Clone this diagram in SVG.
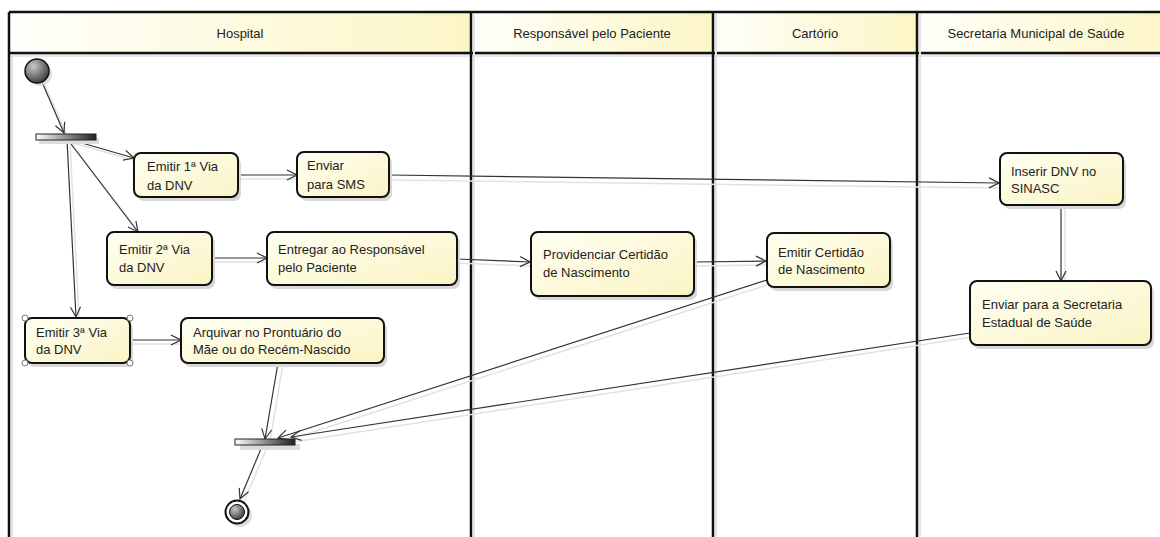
<svg xmlns="http://www.w3.org/2000/svg" width="1160" height="537" viewBox="0 0 1160 537">
<defs>
<linearGradient id="hdr" x1="0" y1="0" x2="1" y2="0">
<stop offset="0" stop-color="#fffffa"/>
<stop offset="1" stop-color="#fcf6c6"/>
</linearGradient>
<linearGradient id="act" x1="0" y1="0" x2="1" y2="1">
<stop offset="0" stop-color="#fffff2"/>
<stop offset="1" stop-color="#faf4c4"/>
</linearGradient>
<linearGradient id="bar" x1="0" y1="0" x2="1" y2="0">
<stop offset="0" stop-color="#ffffff"/>
<stop offset="1" stop-color="#202020"/>
</linearGradient>
<radialGradient id="ball" cx="0.35" cy="0.3" r="0.8">
<stop offset="0" stop-color="#c8c8c8"/>
<stop offset="1" stop-color="#303030"/>
</radialGradient>
<marker id="arr" markerWidth="12" markerHeight="12" refX="11" refY="6" orient="auto" markerUnits="userSpaceOnUse">
<path d="M1,1 L11,6 L1,11" fill="none" stroke="#333" stroke-width="1.2"/>
</marker>
</defs>
<style>
.div{stroke:#111;stroke-width:2.5}
.hdrt{font-family:"Liberation Sans",Arial,sans-serif;font-size:13px;fill:#222;text-anchor:middle}
.t{font-family:"Liberation Sans",Arial,sans-serif;font-size:13px;fill:#222}
.box{fill:url(#act);stroke:#111;stroke-width:2}
.sh{fill:#d8d8d8}
.c{stroke:#333;stroke-width:1.2;fill:none;marker-end:url(#arr)}
.g{stroke:#e2e2e2;stroke-width:1.5;fill:none}
.hd{fill:#fff;stroke:#777;stroke-width:1}
.hb{fill:url(#hdr)}
</style>
<rect width="1160" height="537" fill="#fff"/>
<g id="lanes">
<rect x="9" y="12" width="462" height="41" class="hb"/>
<rect x="471" y="12" width="242" height="41" class="hb"/>
<rect x="713" y="12" width="204" height="41" class="hb"/>
<rect x="917" y="12" width="250" height="41" class="hb"/>
<rect x="9" y="53" width="1160" height="4" fill="#e8e8e8"/>
<line x1="9" y1="12" x2="1165" y2="12" class="div"/>
<line x1="9" y1="53" x2="1165" y2="53" class="div" stroke-width="2"/>
<line x1="9" y1="12" x2="9" y2="537" class="div"/>
<line x1="471" y1="12" x2="471" y2="537" class="div"/>
<line x1="713" y1="12" x2="713" y2="537" class="div"/>
<line x1="917" y1="12" x2="917" y2="537" class="div"/>
<line x1="12" y1="56" x2="12" y2="537" stroke="#e4e4e4" stroke-width="2"/>
<line x1="474" y1="14" x2="474" y2="537" stroke="#e4e4e4" stroke-width="2"/>
<line x1="716" y1="14" x2="716" y2="537" stroke="#e4e4e4" stroke-width="2"/>
<line x1="920" y1="14" x2="920" y2="537" stroke="#e4e4e4" stroke-width="2"/>
<text x="240" y="38" class="hdrt">Hospital</text>
<text x="592" y="38" class="hdrt">Responsável pelo Paciente</text>
<text x="815" y="38" class="hdrt">Cartório</text>
<text x="1036" y="38" class="hdrt">Secretaria Municipal de Saúde</text>
</g>
<g id="connectors">
<line x1="45" y1="85" x2="67" y2="136" class="g"/>
<line x1="42" y1="82" x2="64" y2="133" class="c"/>
<line x1="70" y1="142" x2="136" y2="161" class="g"/>
<line x1="68" y1="139" x2="134" y2="158" class="c"/>
<line x1="70" y1="142" x2="141" y2="235" class="g"/>
<line x1="68" y1="140" x2="138" y2="232" class="c"/>
<line x1="70" y1="142" x2="79" y2="318" class="g"/>
<line x1="67" y1="140" x2="76" y2="317" class="c"/>
<line x1="238" y1="179" x2="297" y2="179" class="g"/>
<line x1="238" y1="175" x2="297" y2="175" class="c"/>
<line x1="389" y1="180" x2="1000" y2="188" class="g"/>
<line x1="389" y1="175" x2="999" y2="183" class="c"/>
<line x1="212" y1="262" x2="267" y2="262" class="g"/>
<line x1="212" y1="258" x2="267" y2="258" class="c"/>
<line x1="457" y1="263" x2="531" y2="266" class="g"/>
<line x1="457" y1="259" x2="530" y2="262" class="c"/>
<line x1="694" y1="266" x2="767" y2="265" class="g"/>
<line x1="694" y1="262" x2="766" y2="261" class="c"/>
<line x1="130" y1="344" x2="181" y2="344" class="g"/>
<line x1="130" y1="340" x2="181" y2="340" class="c"/>
<line x1="283" y1="364" x2="270" y2="441" class="g"/>
<line x1="278" y1="363" x2="265" y2="439" class="c"/>
<line x1="767" y1="285" x2="282" y2="442" class="g"/>
<line x1="767" y1="280" x2="278" y2="438" class="c"/>
<line x1="972" y1="337" x2="294" y2="442" class="g"/>
<line x1="970" y1="333" x2="291" y2="437" class="c"/>
<line x1="1065" y1="205" x2="1065" y2="281" class="g"/>
<line x1="1061" y1="205" x2="1061" y2="281" class="c"/>
<line x1="268" y1="445" x2="244" y2="502" class="g"/>
<line x1="263" y1="444" x2="240" y2="499" class="c"/>
</g>
<g id="start">
<circle cx="40" cy="74" r="12" fill="#d0d0d0" opacity="0.7"/>
<circle cx="37" cy="71" r="12" fill="url(#ball)" stroke="#111" stroke-width="1.5"/>
</g>
<g id="fork">
<rect x="39" y="138" width="60" height="6" fill="#dcdcdc"/>
<rect x="36" y="134" width="60" height="6" fill="url(#bar)" stroke="#222" stroke-width="1"/>
</g>
<g id="emitir1">
<rect x="137" y="157" width="104" height="44" rx="7" class="sh"/>
<rect x="134" y="153" width="104" height="44" rx="7" class="box"/>
<text x="147" y="171" class="t">Emitir 1ª Via</text>
<text x="147" y="190" class="t">da DNV</text>
</g>
<g id="enviarsms">
<rect x="300" y="156" width="92" height="45" rx="7" class="sh"/>
<rect x="297" y="152" width="92" height="45" rx="7" class="box"/>
<text x="307" y="170" class="t">Enviar</text>
<text x="307" y="189" class="t">para SMS</text>
</g>
<g id="emitir2">
<rect x="110" y="236" width="105" height="53" rx="7" class="sh"/>
<rect x="107" y="232" width="105" height="53" rx="7" class="box"/>
<text x="119" y="254" class="t">Emitir 2ª Via</text>
<text x="119" y="272" class="t">da DNV</text>
</g>
<g id="entregar">
<rect x="270" y="236" width="190" height="53" rx="7" class="sh"/>
<rect x="267" y="232" width="190" height="53" rx="7" class="box"/>
<text x="278" y="254" class="t">Entregar ao Responsável</text>
<text x="278" y="272" class="t">pelo Paciente</text>
</g>
<g id="emitir3">
<rect x="28" y="322" width="105" height="45" rx="7" class="sh"/>
<rect x="25" y="318" width="105" height="45" rx="7" class="box"/>
<text x="36" y="337" class="t">Emitir 3ª Via</text>
<text x="36" y="354" class="t">da DNV</text>
<circle cx="25" cy="318" r="3" class="hd"/>
<circle cx="130" cy="318" r="3" class="hd"/>
<circle cx="25" cy="363" r="3" class="hd"/>
<circle cx="130" cy="363" r="3" class="hd"/>
</g>
<g id="arquivar">
<rect x="184" y="322" width="203" height="45" rx="7" class="sh"/>
<rect x="181" y="318" width="203" height="45" rx="7" class="box"/>
<text x="193" y="337" class="t">Arquivar no Prontuário do</text>
<text x="193" y="354" class="t">Mãe ou do Recém-Nascido</text>
</g>
<g id="providenciar">
<rect x="534" y="236" width="163" height="64" rx="7" class="sh"/>
<rect x="531" y="232" width="163" height="64" rx="7" class="box"/>
<text x="543" y="259" class="t">Providenciar Certidão</text>
<text x="543" y="277" class="t">de Nascimento</text>
</g>
<g id="emitircertidao">
<rect x="770" y="237" width="123" height="54" rx="7" class="sh"/>
<rect x="767" y="233" width="123" height="54" rx="7" class="box"/>
<text x="778" y="257" class="t">Emitir Certidão</text>
<text x="778" y="274" class="t">de Nascimento</text>
</g>
<g id="inserir">
<rect x="1003" y="157" width="123" height="52" rx="7" class="sh"/>
<rect x="1000" y="153" width="123" height="52" rx="7" class="box"/>
<text x="1011" y="176" class="t">Inserir DNV no</text>
<text x="1011" y="193" class="t">SINASC</text>
</g>
<g id="enviarses">
<rect x="973" y="285" width="181" height="64" rx="7" class="sh"/>
<rect x="970" y="281" width="181" height="64" rx="7" class="box"/>
<text x="982" y="309" class="t">Enviar para a Secretaria</text>
<text x="982" y="327" class="t">Estadual de Saúde</text>
</g>
<g id="join">
<rect x="240" y="444" width="60" height="6" fill="#dcdcdc"/>
<rect x="235" y="439" width="60" height="6" fill="url(#bar)" stroke="#222" stroke-width="1"/>
</g>
<g id="end">
<circle cx="240" cy="515" r="12" fill="#d0d0d0" opacity="0.7"/>
<circle cx="237" cy="512" r="11.5" fill="#fff" stroke="#111" stroke-width="2"/>
<circle cx="237" cy="512" r="7.5" fill="url(#ball)" stroke="#111" stroke-width="1"/>
</g>
</svg>
